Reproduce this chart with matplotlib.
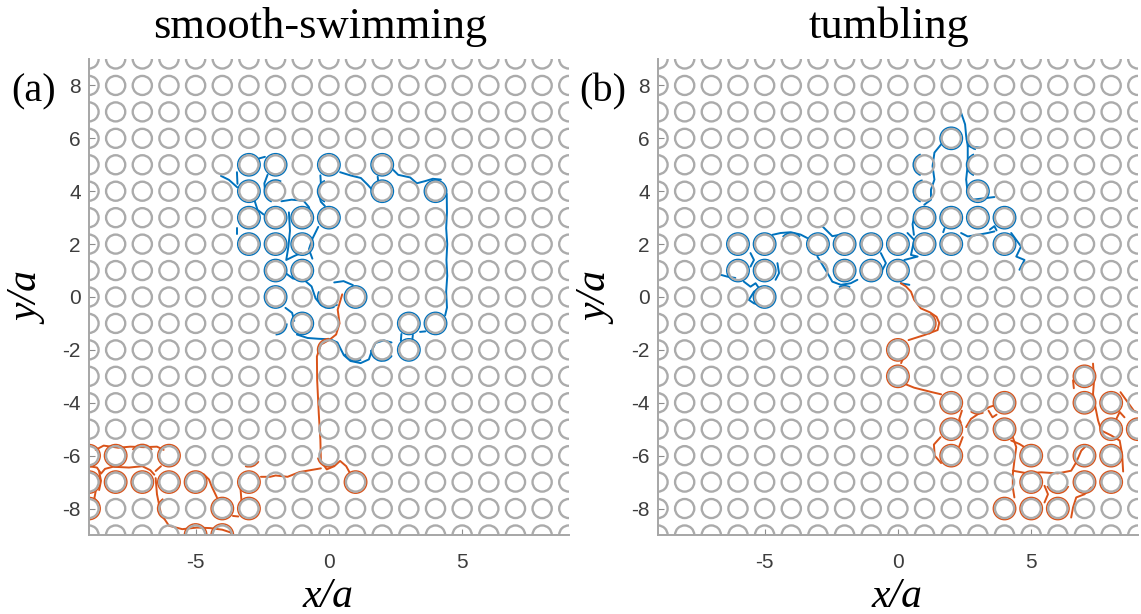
import numpy as np
import matplotlib.pyplot as plt
from matplotlib.patches import Circle, Arc
from matplotlib.collections import PatchCollection

plt.rcParams["axes.unicode_minus"] = False


# ------------------------------
# 1. Data
# ------------------------------
# square lattice of obstacles, spacing a
lattice = np.arange(-9, 10)

BLUE = "#0072BD"
RED = "#D95319"
OBSTACLE_GRAY = "#ababab"

titles = ["smooth-swimming", "tumbling"]
panel_tags = ["(a)", "(b)"]
x_ticks = [-5, 0, 5]
y_ticks = [-8, -6, -4, -2, 0, 2, 4, 6, 8]

# (a) smooth-swimming: obstacles orbited, partial wraps (center, from deg, to deg)
# and the free runs between them
a_blue_rings = [(-3, 5), (-2, 5), (0, 5), (2, 5),
                (-3, 4), (2, 4), (4, 4),
                (-3, 3), (-2, 3), (-1, 3), (0, 3),
                (-3, 2), (-2, 2), (-1, 2),
                (-2, 1), (-1, 1),
                (-2, 0), (1, 0),
                (-1, -1), (3, -1), (4, -1),
                (3, -2)]
a_blue_arcs = [((0, 0), 150, 300), ((-2, 4), 60, 250), ((0, 4), 110, 250),
               ((2, -2), 180, 330), ((1, -2), 200, 300), ((-2, -1), 270, 360)]
a_blue_paths = [
    [(-4.05, 4.58), (-3.75, 4.43), (-3.44, 4.15)],
    [(-3.43, 4.28), (-3.45, 4.72)],
    [(-2.62, 5.24), (-2.4, 5.3)],
    [(-2.3, 4.62), (-2.42, 4.3), (-2.4, 4.05)],
    [(-2.78, 3.62), (-2.68, 3.3), (-2.45, 3.12)],
    [(-3.43, 2.62), (-3.43, 2.38)],
    [(-1.78, 3.62), (-1.4, 3.68), (-0.95, 3.64), (-0.75, 3.4), (-0.65, 3.05)],
    [(-1.5, 3.2), (-1.46, 2.5), (-1.52, 1.9), (-1.6, 1.4), (-1.3, 1.55), (-1.05, 1.66)],
    [(-1.62, 0.9), (-1.35, 0.7), (-0.9, 0.62), (-0.65, 0.4), (-0.5, -0.05),
     (-0.3, -0.3), (0.0, -0.4), (0.3, -0.3)],
    [(-0.32, 4.6), (-0.3, 4.3), (-0.4, 3.95), (-0.3, 3.6), (-0.15, 3.44)],
    [(0.42, 4.72), (0.8, 4.6), (1.2, 4.5), (1.45, 4.25), (1.62, 4.06)],
    [(1.83, 4.55), (1.85, 4.37)],
    [(2.42, 4.8), (2.6, 4.62), (3.05, 4.52), (3.3, 4.3), (3.6, 4.38), (3.9, 4.47), (4.2, 4.44)],
    [(4.42, 3.9), (4.43, 3.2), (4.4, 2.6), (4.44, 2.0), (4.41, 1.4), (4.44, 0.8),
     (4.4, 0.2), (4.43, -0.4), (4.36, -0.7)],
    [(3.42, -1.32), (3.62, -1.3)],
    [(2.72, -1.4), (2.7, -1.66)],
    [(3.15, -1.43), (3.13, -1.62)],
    [(-1.63, -0.41), (-1.38, -0.6), (-1.3, -0.9)],
    [(-1.2, -1.42), (-0.8, -1.55), (-0.4, -1.58), (0.05, -1.6), (0.32, -1.72), (0.56, -2.2),
     (0.81, -2.42), (1.19, -2.5), (1.5, -2.36), (1.63, -1.98), (1.75, -1.74), (2.06, -1.64),
     (2.35, -1.72)],
    [(0.2, 0.55), (0.55, 0.6), (0.9, 0.45)],
    [(-0.4, 2.65), (-0.62, 2.2), (-0.75, 1.8), (-0.62, 1.45)],
]
a_red_rings = [(1, -7), (-3, -7), (-3, -8), (-4, -8), (-5, -7), (-6, -7), (-7, -7),
               (-8, -7), (-9, -7), (-9, -8), (-9, -6), (-8, -6), (-6, -6),
               (-5, -9), (-4, -9)]
a_red_arcs = [((0, -2), 90, 200), ((-7, -6), 30, 150), ((0, -6), 190, 300),
              ((-6, -8), 120, 250), ((-3, -6), 250, 330)]
a_red_paths = [
    [(0.5, 0.1), (0.33, -0.48), (0.4, -1.0), (0.27, -1.42), (0.02, -1.62), (-0.3, -1.8),
     (-0.45, -2.25), (-0.44, -3.15), (-0.38, -4.4), (-0.32, -5.4), (-0.3, -6.2),
     (-0.08, -6.52), (0.2, -6.4), (0.42, -6.2), (0.65, -6.4), (0.8, -6.68)],
    [(-0.3, -6.48), (-0.7, -6.55), (-1.1, -6.62), (-1.55, -6.8), (-2.0, -6.75),
     (-2.2, -6.8), (-2.55, -6.8)],
    [(-3.32, -7.2), (-3.28, -7.7)],
    [(-3.6, -8.28), (-3.4, -8.3)],
    [(-4.2, -7.58), (-4.38, -7.2), (-4.5, -6.9), (-4.7, -6.7)],
    [(-6.5, -6.85), (-6.45, -7.46), (-6.3, -8.2), (-6.0, -8.65), (-5.5, -8.78), (-4.95, -8.72),
     (-4.45, -8.74), (-4.0, -8.8), (-3.7, -8.9), (-3.52, -9.1)],
    [(-8.75, -5.78), (-8.45, -5.62), (-7.9, -5.7), (-7.45, -5.66), (-6.95, -5.68),
     (-6.45, -5.66), (-6.2, -5.78)],
    [(-9.0, -6.4), (-8.7, -6.45), (-8.55, -6.68), (-8.4, -6.5), (-8.1, -6.42), (-7.5, -6.45),
     (-7.0, -6.4), (-6.7, -6.55), (-6.55, -6.72)],
    [(-8.62, -6.6), (-8.55, -6.95), (-8.62, -7.3)],
    [(-8.75, -7.35), (-8.8, -7.62), (-8.65, -7.78)],
    [(-6.3, -6.4), (-6.5, -6.58)],
]

# (b) tumbling
b_blue_rings = [(-6, 2), (-5, 2), (-3, 2), (-2, 2), (-1, 2), (0, 2), (1, 2), (2, 2), (4, 2),
                (-6, 1), (-5, 1), (-2, 1), (-1, 1), (0, 1), (-5, 0),
                (1, 3), (2, 3), (3, 3), (4, 3), (3, 4), (2, 6)]
b_blue_arcs = [((-4, 2), 40, 140), ((1, 4), 100, 250), ((1, 5), 110, 250),
               ((3, 5), 110, 250), ((3, 6), 180, 260), ((-2, 0), 60, 120)]
b_blue_paths = [
    [(-6.65, 0.84), (-6.4, 0.77), (-6.1, 0.72)],
    [(-5.78, 0.58), (-5.53, 0.39), (-5.34, 0.52), (-5.21, 0.33), (-5.4, 0.2), (-5.59, -0.11),
     (-5.4, -0.24), (-5.21, -0.3)],
    [(-5.53, 1.66), (-5.4, 1.4), (-5.53, 1.15)],
    [(-4.52, 1.28), (-4.46, 0.9), (-4.59, 0.65)],
    [(-4.71, 2.35), (-4.4, 2.42), (-4.02, 2.45), (-3.65, 2.36), (-3.4, 2.23)],
    [(-3.02, 1.53), (-2.64, 0.9), (-2.46, 0.58), (-2.14, 0.46), (-1.77, 0.52), (-1.52, 0.65)],
    [(-2.83, 2.67), (-2.64, 2.48), (-2.46, 2.3), (-2.14, 2.36)],
    [(-0.64, 1.66), (-0.45, 1.28), (-0.58, 1.03)],
    [(0.36, 2.42), (0.61, 2.16), (0.49, 1.59), (0.74, 1.53), (0.24, 1.4)],
    [(0.11, 0.52), (0.43, 0.46)],
    [(0.6, 2.35), (0.55, 2.75), (0.62, 3.1)],
    [(1.7, 2.45), (1.75, 2.6)],
    [(2.37, 2.42), (2.62, 2.29), (2.99, 2.35), (3.37, 2.42), (3.62, 2.48)],
    [(3.45, 2.55), (3.62, 2.68), (3.7, 2.52)],
    [(4.25, 2.42), (4.62, 1.91), (4.44, 1.53), (4.75, 1.4), (4.56, 1.03)],
    [(1.62, 5.77), (1.37, 5.46), (1.3, 4.95), (1.37, 4.44), (1.24, 4.06), (1.24, 3.68),
     (0.99, 3.49)],
    [(2.37, 6.97), (2.52, 6.53), (2.56, 6.09), (2.62, 5.71), (3.06, 5.65)],
    [(2.62, 5.71), (2.62, 5.01), (2.56, 4.44), (2.62, 3.94), (2.81, 3.68), (3.37, 3.75),
     (3.62, 3.78)],
]
b_red_rings = [(0, -2), (0, -3), (2, -4), (2, -5), (2, -6), (4, -4), (4, -5), (5, -6),
               (5, -7), (4, -8), (5, -8), (6, -8), (7, -3), (7, -4), (8, -4), (8, -5),
               (9, -5), (7, -6), (8, -6), (7, -7), (8, -7)]
b_red_arcs = [((1, -1), -70, 60), ((6, -7), 200, 340), ((3, -4), 230, 300)]
b_red_paths = [
    [(0.11, 0.52), (0.3, 0.4), (0.49, 0.2), (0.61, -0.11), (0.86, -0.43), (1.2, -0.58),
     (1.45, -0.75), (1.55, -0.98), (1.49, -1.25), (0.99, -1.44), (0.4, -1.63)],
    [(0.18, -2.35), (0.12, -2.5)],
    [(0.24, -3.28), (0.61, -3.43), (1.24, -3.59), (1.62, -3.68)],
    [(2.4, -4.3), (2.3, -4.62), (2.36, -4.75)],
    [(2.43, -5.3), (2.3, -5.65)],
    [(1.6, -5.3), (1.35, -5.58), (1.38, -6.0), (1.62, -6.28)],
    [(2.56, -4.92), (2.74, -4.61), (3.12, -4.35), (3.43, -4.16), (3.62, -4.1)],
    [(3.4, -4.3), (3.55, -4.55), (3.7, -4.45)],
    [(4.31, -5.3), (4.44, -5.68), (4.37, -6.19), (4.31, -6.7), (4.31, -7.2), (4.37, -7.58)],
    [(4.25, -5.43), (4.56, -5.56), (4.75, -5.68)],
    [(4.31, -6.57), (4.87, -6.67), (5.38, -6.63), (6.0, -6.67), (6.5, -6.57), (6.69, -6.25),
     (6.88, -5.81), (7.07, -5.62)],
    [(5.5, -7.14), (5.63, -7.46), (5.5, -7.77)],
    [(6.5, -8.34), (6.57, -7.96), (6.69, -7.58), (7.0, -7.46), (7.26, -7.2)],
    [(7.32, -2.52), (7.36, -3.15), (7.32, -3.66), (7.41, -4.17), (7.51, -4.67), (7.63, -5.05),
     (8.01, -5.24), (8.32, -5.43), (8.41, -5.94), (8.45, -6.6)],
    [(8.35, -3.6), (8.6, -3.95), (8.85, -4.3), (9.2, -4.45)],
    [(8.2, -4.6), (8.32, -4.35), (8.5, -4.55)],
    [(6.57, -3.15), (6.6, -3.45)],
]


# ------------------------------
# 2. Drawing helpers
# ------------------------------
def draw_obstacles(ax, radius=0.36):
    """gray hollow obstacles on the whole lattice"""
    circles = [Circle((x, y), radius) for x in lattice for y in lattice]
    pc = PatchCollection(circles, facecolor="none", edgecolor=OBSTACLE_GRAY,
                         linewidth=1.7, zorder=3)
    ax.add_collection(pc)


def draw_track(ax, rings, arcs, paths, color, radius=0.42):
    """full orbits, partial wraps and the runs between obstacles"""
    circles = [Circle(c, radius) for c in rings]
    pc = PatchCollection(circles, facecolor="none", edgecolor=color,
                         linewidth=1.1, zorder=2)
    ax.add_collection(pc)
    for center, t1, t2 in arcs:
        ax.add_patch(Arc(center, 2 * radius, 2 * radius, theta1=t1, theta2=t2,
                         color=color, linewidth=1.3, zorder=2))
    for seg in paths:
        seg = np.array(seg)
        ax.plot(seg[:, 0], seg[:, 1], color=color, linewidth=1.4,
                solid_capstyle="round", zorder=2)


def style_axes(ax):
    ax.set_xlim(-9, 9)
    ax.set_ylim(-9, 9)
    ax.set_xticks(x_ticks)
    ax.set_yticks(y_ticks)
    for side in ["top", "right"]:
        ax.spines[side].set_visible(False)
    for side in ["left", "bottom"]:
        ax.spines[side].set_color("#a6a6a6")
        ax.spines[side].set_linewidth(1.4)
        ax.spines[side].set_zorder(4)
    ax.tick_params(direction="in", length=4, width=0.8, color="#8c8c8c",
                   labelsize=15, labelcolor="#3d3d3d")
    ax.tick_params(axis="x", pad=13)
    ax.tick_params(axis="y", pad=6)
    for lab in ax.get_xticklabels() + ax.get_yticklabels():
        lab.set_fontfamily("Liberation Sans")


# ------------------------------
# 3. Figure
# ------------------------------
def main():
    fig = plt.figure(figsize=(11.41, 6.14), dpi=100)
    serif = "Liberation Serif"

    panels = [
        (0.078, (a_blue_rings, a_blue_arcs, a_blue_paths), (a_red_rings, a_red_arcs, a_red_paths)),
        (0.5767, (b_blue_rings, b_blue_arcs, b_blue_paths), (b_red_rings, b_red_arcs, b_red_paths)),
    ]
    for i, (left, blue_track, red_track) in enumerate(panels):
        ax = fig.add_axes([left, 0.1287, 0.4205, 0.7752])
        draw_obstacles(ax)
        draw_track(ax, *blue_track, BLUE)
        draw_track(ax, *red_track, RED)
        style_axes(ax)

        x0 = left * 1141
        cx = x0 + 239
        fig.text((cx - 8) / 1141, 1 - 38 / 614, titles[i], fontsize=32,
                 family=serif, ha="center", va="baseline")
        fig.text((x0 - 55) / 1141, 1 - 92 / 614, panel_tags[i], fontsize=29,
                 family=serif, ha="center", va="center")
        fig.text(cx / 1141, 1 - 607 / 614, "x/a", fontsize=30, family=serif,
                 style="italic", ha="center", va="baseline")
        fig.text((x0 - 60) / 1141, 1 - 299 / 614, "y/a", fontsize=30, family=serif,
                 style="italic", ha="center", va="center", rotation=90)

    fig.savefig("out.png", dpi=100)
    plt.close(fig)


if __name__ == "__main__":
    main()
